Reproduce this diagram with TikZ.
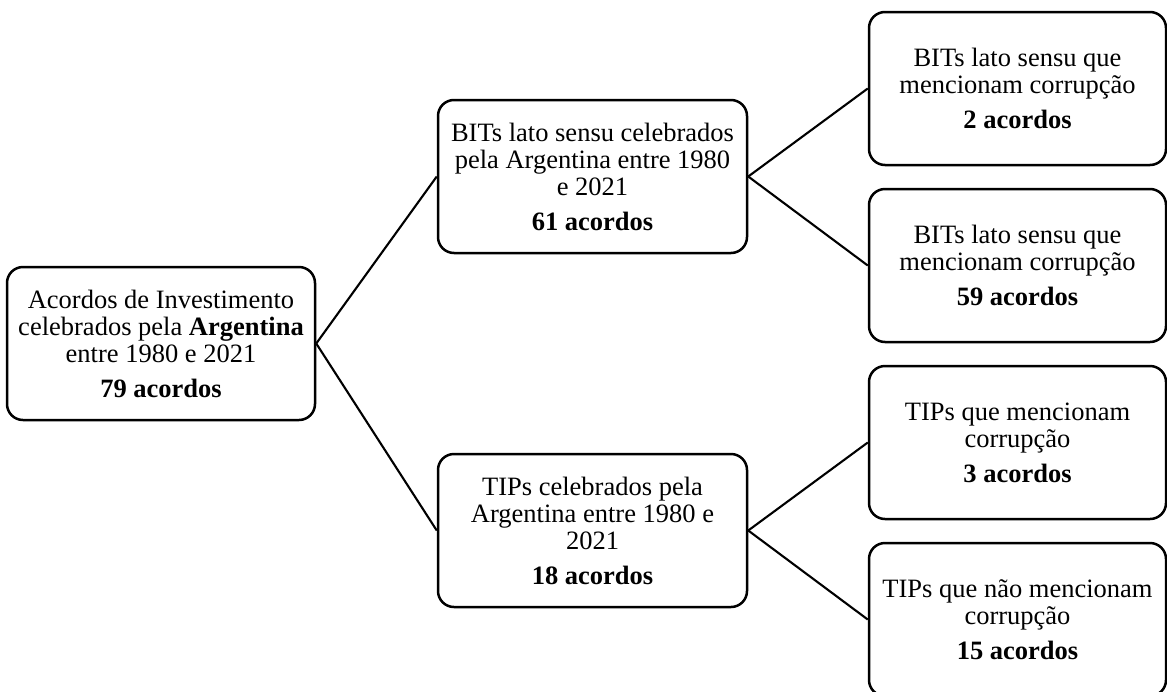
\documentclass[tikz,border=0pt]{standalone}
\usepackage{fontspec}
\setmainfont{Liberation Serif}
\begin{document}
\begin{tikzpicture}[x=1pt,y=-1pt,
  box/.style={draw, line width=2.5pt, rounded corners=16pt, align=center,
    inner sep=0pt, minimum height=153pt,
    font=\fontsize{26.5}{27}\selectfont},
  conn/.style={line width=2.1pt}]
  \clip (0,0) rectangle (1167,691);

  % root
  \node[box, minimum width=308pt] (root) at (161,343.5)
    {Acordos de Investimento\\ celebrados pela \textbf{Argentina}\\ entre 1980 e 2021\\[8pt] \textbf{79 acordos}};

  % second level
  \node[box, minimum width=309pt] (bits) at (592.5,176.5)
    {BITs lato sensu celebrados\\ pela Argentina entre 1980\\ e 2021\\[8pt] \textbf{61 acordos}};
  \node[box, minimum width=309pt] (tips) at (592.5,530.5)
    {TIPs celebrados pela\\ Argentina entre 1980 e\\ 2021\\[8pt] \textbf{18 acordos}};

  % leaves
  \node[box, minimum width=297pt] (b1) at (1017.5,88.5)
    {BITs lato sensu que\\ mencionam corrupção\\[8pt] \textbf{2 acordos}};
  \node[box, minimum width=297pt] (b2) at (1017.5,265.5)
    {BITs lato sensu que\\ mencionam corrupção\\[8pt] \textbf{59 acordos}};
  \node[box, minimum width=297pt] (t1) at (1017.5,442.5)
    {TIPs que mencionam\\ corrupção\\[8pt] \textbf{3 acordos}};
  \node[box, minimum width=297pt] (t2) at (1017.5,619.5)
    {TIPs que não mencionam\\ corrupção\\[8pt] \textbf{15 acordos}};

  % connectors
  \draw[conn] (root.east) -- (bits.west);
  \draw[conn] (root.east) -- (tips.west);
  \draw[conn] (bits.east) -- (b1.west);
  \draw[conn] (bits.east) -- (b2.west);
  \draw[conn] (tips.east) -- (t1.west);
  \draw[conn] (tips.east) -- (t2.west);
\end{tikzpicture}
\end{document}
